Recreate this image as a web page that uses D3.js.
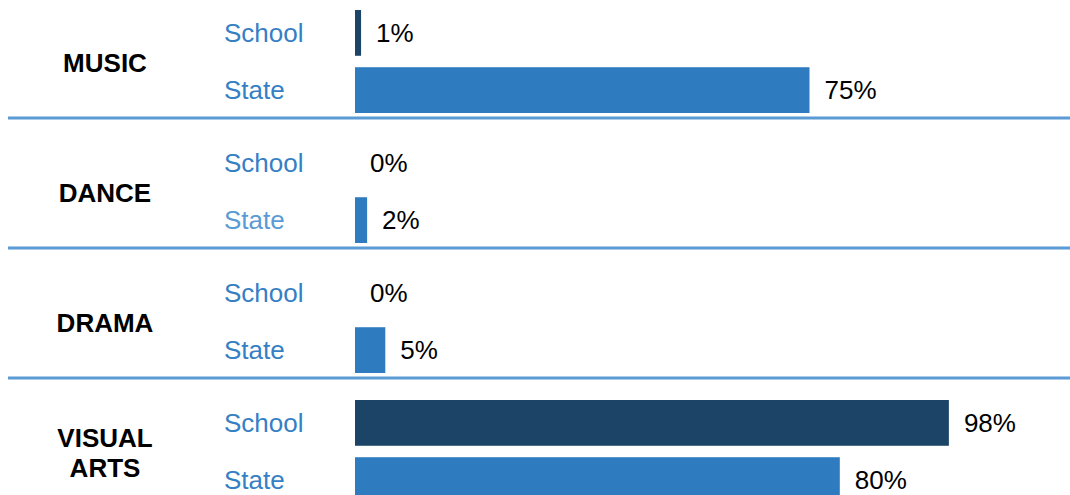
<!doctype html>
<html lang="en">
<head>
	<meta charset="utf-8">
	<title>Arts courses: School vs State</title>
	<script src="https://cdn.jsdelivr.net/npm/d3@7/dist/d3.min.js"></script>
	<style>
		body { margin: 0; background: #fff; }
		svg { display: block; font-family: "Liberation Sans", Arial, sans-serif; }
	</style>
</head>
<body>
	<svg width="1070" height="495"></svg>
	<script>
		// data
		var categories = [["MUSIC"], ["DANCE"], ["DRAMA"], ["VISUAL", "ARTS"]];
		var groups = ["School", "State"];
		var schoolValues = [1, 0, 0, 98];
		var stateValues = [75, 2, 5, 80];

		var svg = d3.select("svg");
		var keys = categories.map(function(c) { return c.join(" "); });

		var yBlock = d3.scaleBand().domain(keys).range([-11, 509]);
		var ySub = d3.scaleBand().domain(groups).range([21, 124]).paddingInner(0.2);
		var xScale = d3.scaleLinear().domain([0, 100]).range([355, 961]);
		var color = d3.scaleOrdinal().domain(groups).range(["#1c4467", "#2e7bbf"]);

		var rows = [];
		keys.forEach(function(k, i) {
			rows.push({cat: k, group: "School", value: schoolValues[i]});
			rows.push({cat: k, group: "State", value: stateValues[i]});
		});

		// separators between blocks
		svg.selectAll("line.sep")
			.data(keys.slice(1))
			.enter()
			.append("line")
			.attr("class", "sep")
			.attr("x1", 8).attr("x2", 1070)
			.attr("y1", function(d) { return yBlock(d) - 1; })
			.attr("y2", function(d) { return yBlock(d) - 1; })
			.attr("stroke", "#5b9bd5")
			.attr("stroke-width", 3);

		// category labels
		var catLabel = svg.selectAll("text.cat")
			.data(categories)
			.enter()
			.append("text")
			.attr("class", "cat")
			.attr("x", 105)
			.attr("text-anchor", "middle")
			.style("font-size", "26px")
			.style("font-weight", "bold")
			.attr("fill", "#000");
		catLabel.each(function(c, i) {
			var mid = yBlock(keys[i]) + (ySub.range()[0] + ySub.range()[1]) / 2 + 1;
			var n = c.length;
			d3.select(this).selectAll("tspan")
				.data(c)
				.enter()
				.append("tspan")
				.attr("x", 105)
				.attr("y", function(d, j) { return mid + (j - (n - 1) / 2) * 30; })
				.attr("dy", "0.35em")
				.text(function(d) { return d; });
		});

		// group labels
		svg.selectAll("text.grp")
			.data(rows)
			.enter()
			.append("text")
			.attr("class", "grp")
			.attr("x", 224)
			.attr("y", function(d) { return yBlock(d.cat) + ySub(d.group) + ySub.bandwidth() / 2; })
			.attr("dy", "0.35em")
			.style("font-size", "26px")
			.attr("fill", function(d) { return d.cat == "DANCE" && d.group == "State" ? "#5b9bd5" : "#3580c4"; })
			.text(function(d) { return d.group; });

		// bars
		svg.selectAll("rect.bar")
			.data(rows)
			.enter()
			.append("rect")
			.attr("class", "bar")
			.attr("x", xScale(0))
			.attr("y", function(d) { return yBlock(d.cat) + ySub(d.group); })
			.attr("width", function(d) { return xScale(d.value) - xScale(0); })
			.attr("height", ySub.bandwidth())
			.attr("fill", function(d) { return color(d.group); });

		// value labels
		svg.selectAll("text.val")
			.data(rows)
			.enter()
			.append("text")
			.attr("class", "val")
			.attr("x", function(d) { return xScale(d.value) + 15; })
			.attr("y", function(d) { return yBlock(d.cat) + ySub(d.group) + ySub.bandwidth() / 2; })
			.attr("dy", "0.35em")
			.style("font-size", "26px")
			.attr("fill", "#000")
			.text(function(d) { return d.value + "%"; });
	</script>
</body>
</html>
